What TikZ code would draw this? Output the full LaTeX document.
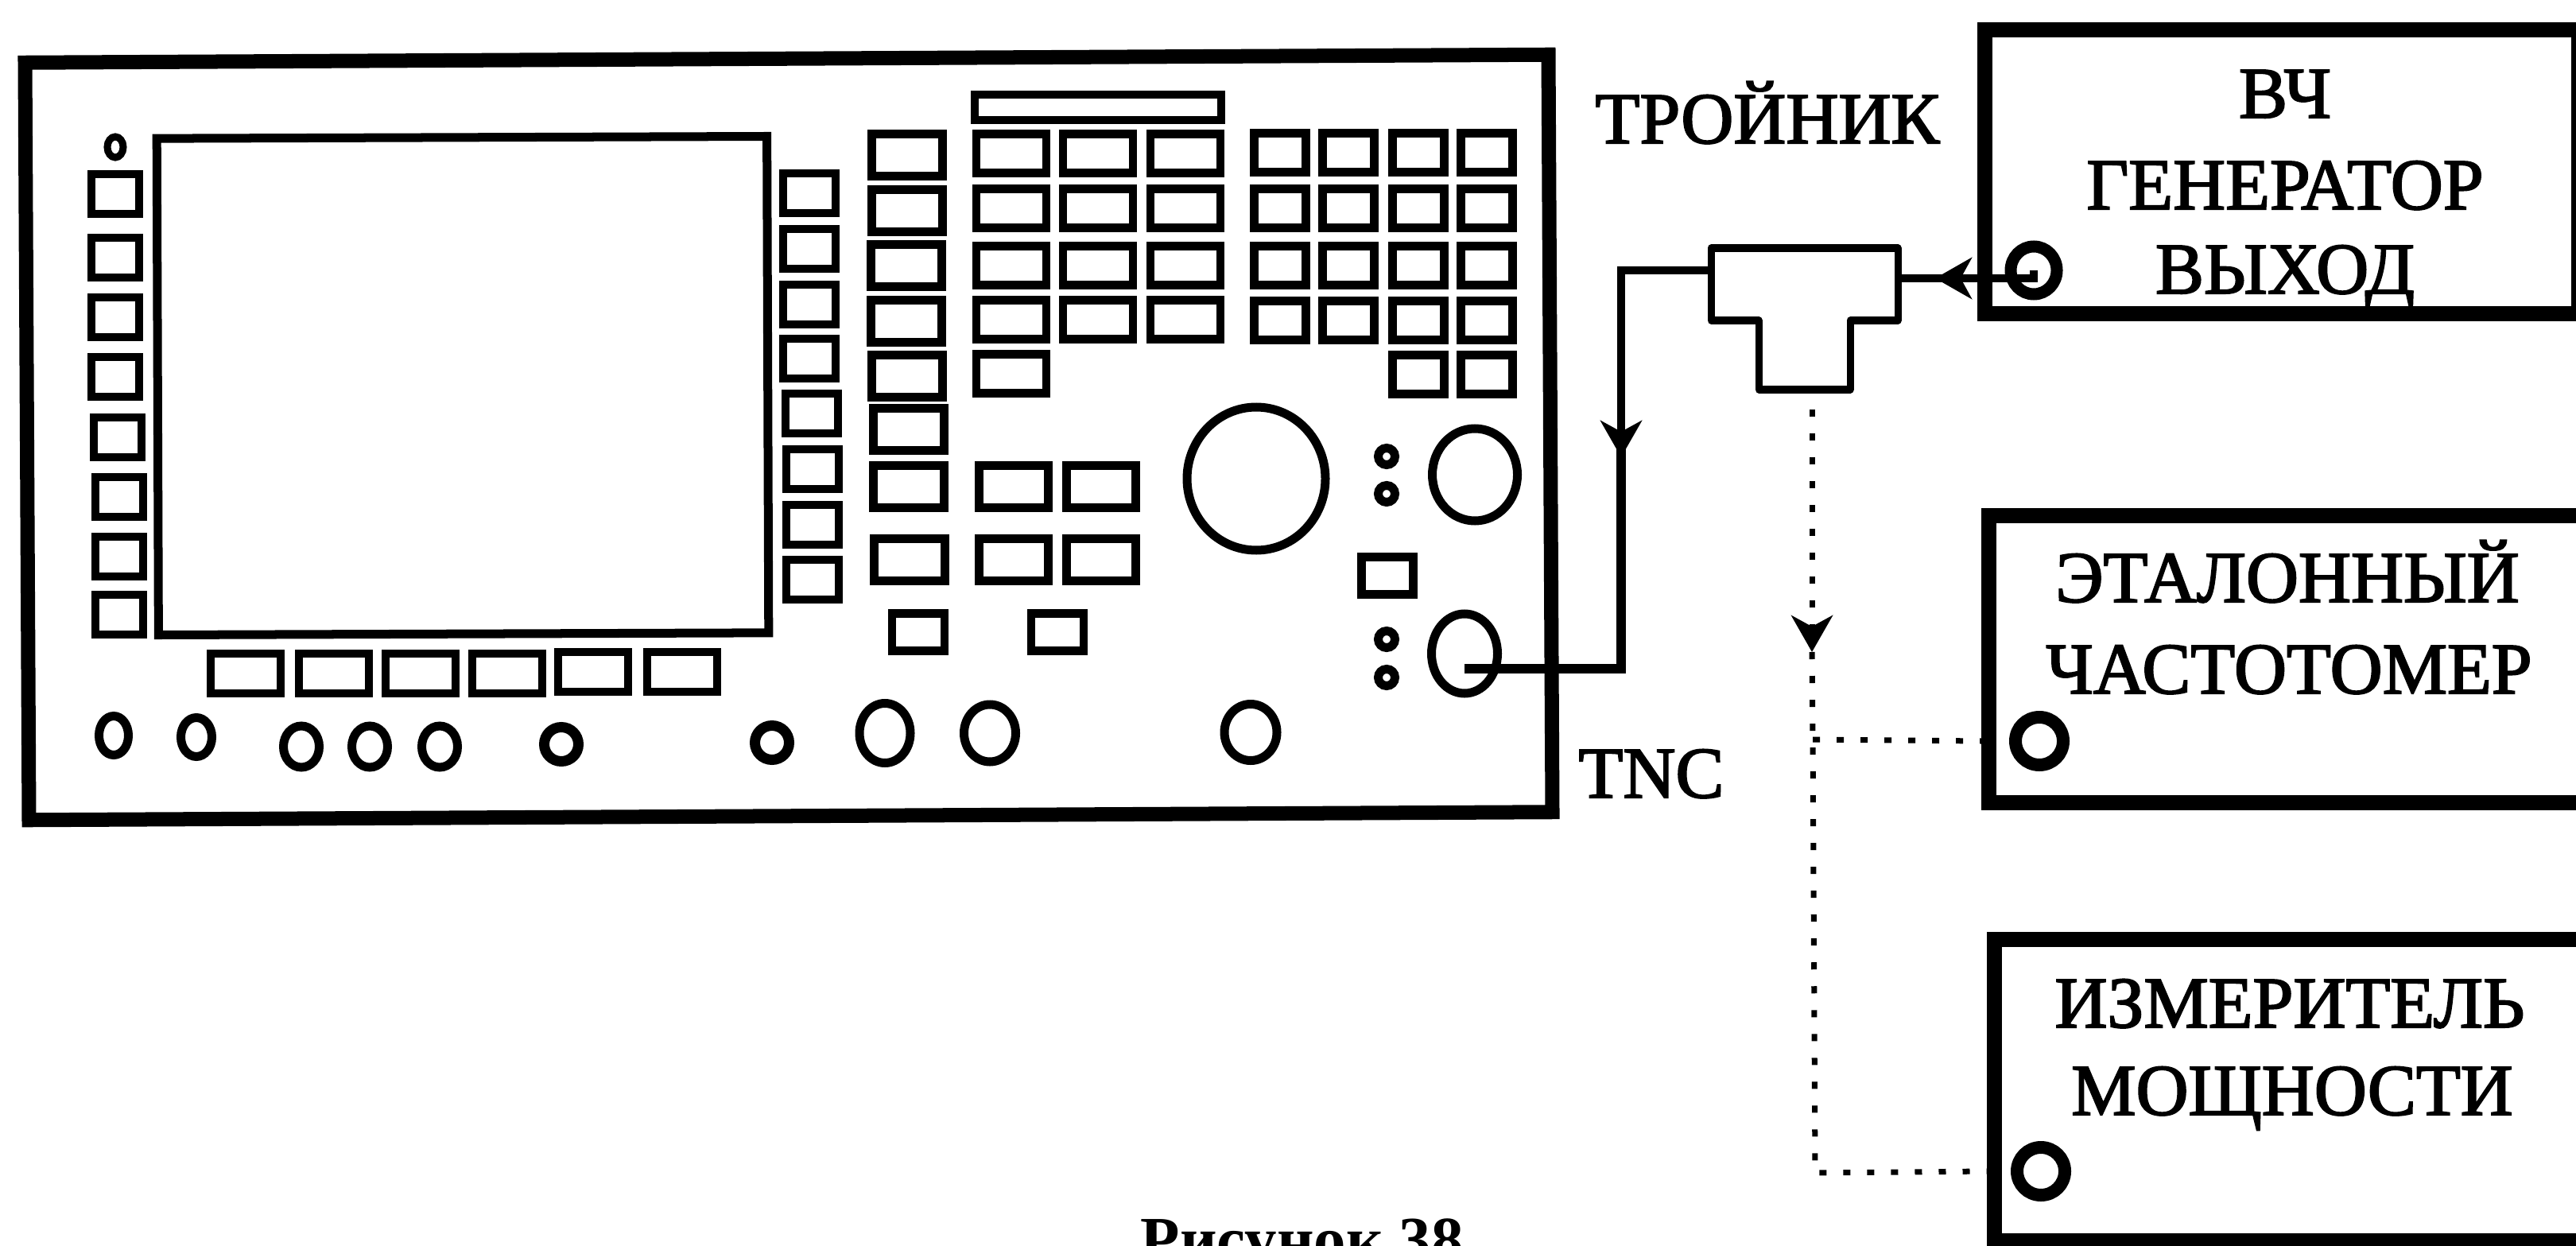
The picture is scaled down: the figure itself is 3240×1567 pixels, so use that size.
\documentclass[tikz,border=0pt]{standalone}
\usepackage{fontspec}
\setmainfont[FakeBold=2.2]{Liberation Serif}
\newfontfamily\capfont{Liberation Serif Bold}
\usepackage{xcolor}
\usetikzlibrary{arrows.meta,calc,positioning,shapes.geometric}
\definecolor{ink}{HTML}{000000}

\begin{document}
\begin{tikzpicture}[x=0.01cm,y=-0.01cm,font=\fontsize{26}{30}\selectfont,text=ink,
  btn/.style n args={2}{draw=ink,line width=0.105cm,inner sep=0pt,minimum width=#1*0.01cm,minimum height=#2*0.01cm},
  knob/.style n args={3}{draw=ink,ellipse,line width=#3*0.01cm,inner sep=0pt,minimum width=#1*0.01cm,minimum height=#2*0.01cm},
  devbox/.style={draw=ink,line width=0.19cm,inner sep=0pt},
  lbl/.style={anchor=base,inner sep=0pt},
  wire/.style={draw=ink,line width=0.1cm},
  probe/.style={draw=ink,line width=0.07cm,dash pattern=on 0.09cm off 0.21cm},
  head/.style={-{Stealth[length=0.46cm,width=0.52cm,inset=0.14cm]}}]
\useasboundingbox (0,0) rectangle (3240,1567);
% front panel of the instrument
\node[draw=ink,line width=0.18cm,inner sep=0pt,rotate=0.3,minimum width=19.15cm,minimum height=9.52cm] (panel) at (992,550) {};
\node[draw=ink,line width=0.11cm,inner sep=0pt,rotate=0.2,minimum width=7.67cm,minimum height=6.24cm] (screen) at (582,485) {};
% buttons left of the screen
\node[knob={20}{26}{9}] (lamp) at (145,185) {};
\foreach \i/\x/\y in {1/145/244,2/145/324,3/145/399,4/145/474,5/148/550,6/150/625,7/150/700,8/150/773}
  \node[btn={60}{50}] (left\i) at (\x,\y) {};
% buttons right of the screen
\foreach \i/\x/\y in {1/1018/243,2/1018/313,3/1018/383,4/1018/451,5/1021/520,6/1022/590,7/1022/660,8/1022/729}
  \node[btn={66}{50}] (soft\i) at (\x,\y) {};
% buttons under the screen
\foreach \i/\x/\y in {1/309/847,2/420/847,3/529/847,4/638/847,5/746/845,6/858/845}
  \node[btn={88}{50}] (under\i) at (\x,\y) {};
% keypad, wide keys
\node[draw=ink,line width=0.1cm,inner sep=0pt,minimum width=3.09cm,minimum height=0.31cm] (strip) at (1381,135) {};
\foreach \i/\x/\y in {1/1141/195,2/1141/265,3/1140/334,4/1140/404,5/1141/473,6/1143/540,7/1143/612,8/1144/704}
  \node[btn={89}{53}] (colA\i) at (\x,\y) {};
\foreach \c/\x in {B/1272,C/1381,D/1491}
  \foreach \i/\y in {1/193,2/262,3/334,4/402}
    \node[btn={88}{49}] (col\c\i) at (\x,\y) {};
\node[btn={88}{49}] (colB5) at (1272,470) {};
\foreach \i/\x/\y in {1/1275/612,2/1385/612,3/1275/704,4/1385/704}
  \node[btn={87}{53}] (mid\i) at (\x,\y) {};
% keypad, narrow keys
\foreach \c/\x in {E/1610,F/1696,G/1784,H/1870}
  \foreach \i/\y in {1/192,2/262,3/334,4/403}
    \node[btn={65}{49}] (col\c\i) at (\x,\y) {};
\node[btn={65}{49}] (colG5) at (1784,471) {};
\node[btn={65}{49}] (colH5) at (1870,471) {};
\node[btn={66}{47}] (low1) at (1155,795) {};
\node[btn={66}{47}] (low2) at (1330,795) {};
\node[btn={65}{47}] (low3) at (1745,724) {};
% knobs and sockets
\foreach \i/\x/\y/\w/\h/\t in {1/143/925/37/49/11,2/247/927/39/49/11,3/379/939/45/52/11,4/465/939/45/52/11,
    5/553/939/45/52/11,6/706/936/43/43/13,7/971/934/43/43/13,8/1113/922/64/75/11,9/1245/922/65/72/11,10/1573/921/66/71/11}
  \node[knob={\w}{\h}{\t}] (foot\i) at (\x,\y) {};
\node[knob={174}{180}{11}] (dial) at (1580,602) {};
\node[knob={107}{116}{11}] (dialB) at (1855,597) {};
\node[knob={83}{100}{11}] (tnc) at (1842,822) {};
\foreach \i/\y in {1/574,2/621,3/804,4/852}
  \node[knob={21}{21}{11}] (led\i) at (1744,\y) {};
% tee
\coordinate (teeL) at (2152,340);
\coordinate (teeR) at (2387,350);
\coordinate (teeB) at (2279,490);
\draw[draw=ink,line width=0.09cm,line join=round] (2152,312) -- (2387,312) -- (2387,403) -- (2327,403) -- (2327,490)
  -- (2212,490) -- (2212,403) -- (2152,403) -- cycle;
\node[lbl] (teelabel) at (2223,180) {ТРОЙНИК};
\node[lbl] (tnclabel) at (2077,1003) {TNC};
% devices on the right
\node[devbox,minimum width=7.46cm,minimum height=3.57cm] (gen) at (2870,216) {};
\node[devbox,minimum width=7.58cm,minimum height=3.61cm] (freq) at (2881,829) {};
\node[devbox,minimum width=7.51cm,minimum height=3.79cm] (power) at (2884,1371) {};
\node[lbl] (gen1) at (2874,148) {ВЧ};
\node[lbl] (gen2) at (2874,263) {ГЕНЕРАТОР};
\node[lbl] (gen3) at (2874,369) {ВЫХОД};
\node[lbl] (freq1) at (2877,757) {ЭТАЛОННЫЙ};
\node[lbl] (freq2) at (2879,872) {ЧАСТОТОМЕР};
\node[lbl] (power1) at (2880,1292) {ИЗМЕРИТЕЛЬ};
\node[lbl] (power2) at (2883,1402) {МОЩНОСТИ};
\node[knob={58}{60}{15}] (genout) at (2558,340) {};
\node[knob={60}{60}{16}] (freqin) at (2565,932) {};
\node[knob={60}{60}{16}] (powerin) at (2567,1473) {};
% connections
\coordinate (tncin) at (1842,841);
\coordinate (downtip) at (2039,575);
\coordinate (tiptee) at (2434,350);
\coordinate (tipfreq) at (2279,820);
\coordinate (forkfreq) at (2280,930);
\coordinate (forkpower) at (2283,1475);
\draw[wire] (genout.center) -- (tiptee -| genout.center) -- (teeR);
\draw[wire,head] (genout.west |- tiptee) -- (tiptee);
\draw[wire] (teeL) -| (downtip);
\draw[wire,head] (teeL) -| (downtip);
\draw[wire,line width=0.12cm] ($(downtip)+(0,-20)$) |- (tncin);
\draw[probe,shorten <=0.25cm,head] (teeB) -- (tipfreq);
\draw[probe] (tipfreq) -- (forkfreq) -- (forkpower) -- (powerin.west -| power.west);
\draw[probe] (forkfreq) -- (freqin.west -| freq.west);
% caption, cut by the page edge
\node[anchor=base west,inner sep=0pt,font=\capfont\fontsize{23}{26}\selectfont] (caption) at (1434,1586) {Рисунок 38};
\end{tikzpicture}
\end{document}
